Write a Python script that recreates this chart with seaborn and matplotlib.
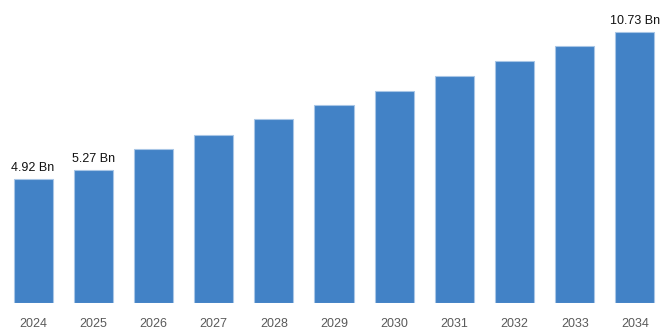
import matplotlib
matplotlib.use("Agg")
import matplotlib.pyplot as plt
import seaborn as sns
import pandas as pd

years = ["2024", "2025", "2026", "2027", "2028", "2029", "2030", "2031", "2032", "2033", "2034"]
market_size = [4.92, 5.27, 6.08, 6.67, 7.27, 7.83, 8.41, 9.00, 9.58, 10.16, 10.73]
labeled_years = ["2024", "2025", "2034"]

df = pd.DataFrame({"year": years, "value": market_size})

sns.set_theme(style="white")
plt.rcParams["font.family"] = ["Liberation Sans", "DejaVu Sans"]

fig = plt.figure(figsize=(6.68, 3.34), dpi=100)
ax = fig.add_axes([0.0045, 31 / 334, 0.991, 1 - 31 / 334])

sns.barplot(data=df, x="year", y="value", color="#4282c6", saturation=1,
            width=0.65, edgecolor="#a8c6e6", linewidth=0.8, ax=ax)

for i, (yr, v) in enumerate(zip(years, market_size)):
    if yr in labeled_years:
        ax.text(i, v + 0.2, f"{v:.2f} Bn", ha="center", va="bottom",
                fontsize=9, color="#111111")

ax.set_ylim(0, 12.0)
ax.set_xlim(-0.5, len(years) - 0.5)
ax.set_xlabel("")
ax.set_ylabel("")
ax.set_yticks([])
ax.tick_params(axis="x", length=0, pad=10.5, labelsize=9, labelcolor="#5a5a5a")
for s in ax.spines.values():
    s.set_visible(False)
ax.set_facecolor("white")
fig.patch.set_facecolor("white")

fig.savefig("out.png", dpi=100, facecolor="white")
